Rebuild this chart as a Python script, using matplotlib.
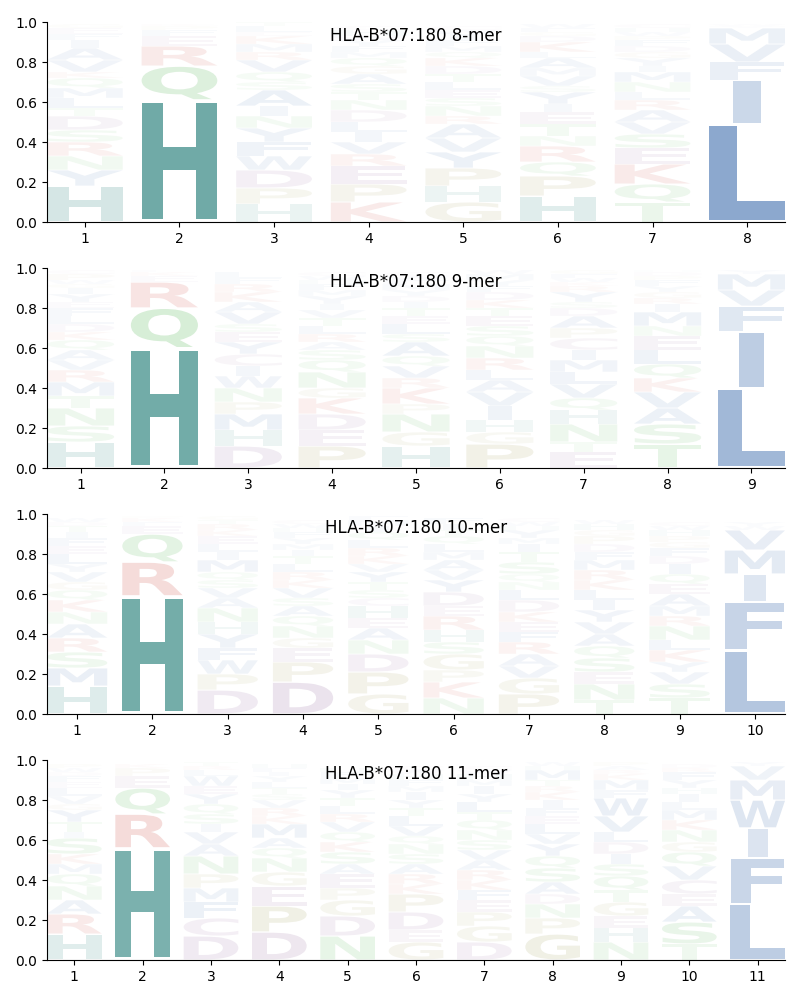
import numpy as np
import matplotlib
matplotlib.use("Agg")
import matplotlib.pyplot as plt
from matplotlib.textpath import TextPath
from matplotlib.patches import PathPatch
from matplotlib.font_manager import FontProperties
from matplotlib.transforms import Affine2D

ALLELE = "HLA-B*07:180"

# letters per position, bottom -> top, and their heights
MER8_LETTERS = ["HYNRSDTLMQKVAIFEG", "HQREFPK", "HPDWFYNIASQVRMKELT",
                "KPERVILDNTSAGQMFYWHC", "GHPYVARNSELTDKQMFIWC",
                "HPQRNTEIYSVMALKDGFW", "TQKESVARLNMIYGDFPWHC", "LIFVMYW"]
MER8_HEIGHTS = [
    [.18, .08, .07, .07, .06, .07, .04, .05, .05, .05, .03, .06, .06, .04, .03, .03, .02],
    [.61, .17, .10, .05, .03, .02, .01],
    [.09, .08, .09, .07, .07, .07, .06, .05, .08, .04, .05, .06, .04, .04, .04, .02, .03, .02],
    [.10, .09, .09, .06, .06, .05, .05, .06, .05, .04, .04, .05, .04, .04, .03, .03, .03, .02, .03, .02],
    [.10, .08, .09, .08, .07, .07, .04, .05, .04, .04, .04, .04, .04, .04, .03, .03, .03, .03, .02, .02],
    [.13, .10, .07, .08, .05, .06, .06, .04, .06, .03, .05, .04, .05, .03, .05, .03, .02, .02, .02],
    [.10, .09, .10, .08, .07, .06, .06, .05, .04, .05, .05, .03, .04, .03, .03, .03, .02, .02, .02, .02],
    [.49, .22, .09, .09, .08, .01, .01],
]

MER9_LETTERS = ["HSNTMRVAQKDLFEYIGWPC", "HQREKF", "DHMPNWICYESVAKRFL",
                "PEDKGNQSARLTVIYMFHWC", "HGNPKRVQASLETIDYMFWC",
                "PGHIVALRNQSETKDFYMW", "ETNHQVLMICPADSYRKWFG",
                "TSAVKQLENMIRGYFPDH", "LIFVMY"]
MER9_HEIGHTS = [
    [.13, .08, .09, .06, .07, .06, .05, .05, .05, .04, .04, .04, .04, .03, .04, .03, .02, .02, .03, .02],
    [.60, .20, .13, .03, .02, .01],
    [.11, .08, .08, .06, .07, .06, .05, .06, .06, .05, .04, .06, .05, .05, .04, .03, .03],
    [.11, .08, .08, .08, .05, .08, .06, .05, .04, .04, .04, .04, .04, .03, .04, .03, .03, .02, .02, .02],
    [.11, .07, .09, .05, .08, .05, .06, .05, .07, .04, .05, .04, .04, .03, .03, .03, .03, .02, .02, .02],
    [.12, .06, .06, .07, .07, .06, .05, .06, .06, .05, .05, .05, .04, .04, .04, .03, .03, .03, .02],
    [.08, .05, .09, .07, .06, .07, .06, .06, .05, .06, .05, .06, .04, .03, .05, .03, .02, .02, .02, .02],
    [.12, .10, .08, .08, .07, .07, .07, .07, .05, .07, .04, .03, .03, .03, .03, .02, .02, .01],
    [.40, .28, .13, .08, .08, .02],
]

MER10_LETTERS = ["HMSRANKQGVYLEFITDW", "HRQEFKP", "DPWFYHNAVSQMILEKRTG",
                 "DPEGNQASVKRLTIMYFHWC", "GPDNAEHCSTYVKRLQIMF",
                 "NKPGSHREDYVAMLQTIF", "PGVARFEKDLNQSTIMYHWC",
                 "TNESQAVYILKRMFDPGHW", "TSVYKLNRMAEQIDFGPHWC", "LFIMVWY"]
MER10_HEIGHTS = [
    [.14, .09, .08, .07, .07, .06, .06, .05, .04, .05, .04, .05, .04, .04, .03, .03, .02, .02],
    [.59, .17, .14, .04, .02, .02, .01],
    [.12, .08, .07, .06, .07, .06, .07, .05, .05, .04, .04, .06, .04, .04, .04, .03, .03, .02, .02],
    [.16, .10, .07, .05, .06, .05, .05, .04, .05, .04, .04, .04, .04, .03, .03, .03, .03, .02, .02, .02],
    [.10, .11, .09, .07, .06, .05, .06, .04, .04, .04, .05, .04, .04, .04, .04, .04, .03, .03, .02],
    [.08, .08, .06, .08, .06, .06, .07, .05, .07, .06, .05, .05, .04, .04, .04, .03, .03, .03],
    [.10, .08, .06, .06, .06, .05, .05, .05, .06, .05, .04, .04, .06, .05, .04, .03, .04, .02, .02, .02],
    [.07, .08, .06, .07, .06, .06, .06, .06, .05, .05, .05, .05, .05, .04, .04, .04, .03, .03, .02],
    [.08, .07, .06, .05, .06, .05, .07, .05, .05, .06, .05, .05, .05, .04, .04, .03, .03, .03, .02, .02],
    [.32, .24, .14, .12, .10, .02, .02],
]

MER11_LETTERS = ["HRANQMKSITYGVLEFDWP", "HRQEPK", "DCFMPNAVISQYEWLRT",
                 "DPEGNQAMKRVSTLYIFH", "NDGPEASKQVRLTYIMFH",
                 "GEDPKRASNQVLTYIMFHWC", "DGPEFKRAVSNQTLYIMHWC",
                 "GPNDASQYVLEFIKRTMHW", "NHEGTQSIDLVWFMKRAP",
                 "TSAECVQGNKMLIHYFRD", "LFIWMVY"]
MER11_HEIGHTS = [
    [.13, .10, .07, .07, .06, .05, .05, .08, .03, .05, .06, .03, .04, .04, .03, .03, .02, .02, .02],
    [.56, .17, .13, .06, .04, .02],
    [.12, .09, .08, .07, .07, .09, .06, .06, .04, .05, .05, .05, .04, .05, .03, .02, .02],
    [.14, .13, .10, .07, .07, .05, .05, .07, .04, .04, .04, .03, .03, .03, .03, .02, .02, .02],
    [.12, .10, .08, .06, .07, .05, .06, .05, .05, .05, .04, .04, .04, .04, .03, .03, .03, .02],
    [.09, .06, .09, .09, .05, .05, .05, .05, .05, .04, .05, .05, .04, .04, .04, .03, .03, .03, .02, .02],
    [.09, .08, .07, .06, .05, .05, .05, .05, .05, .05, .05, .05, .04, .05, .04, .04, .03, .03, .02, .02],
    [.13, .08, .07, .05, .06, .07, .06, .06, .05, .05, .04, .04, .04, .04, .03, .03, .05, .02, .02],
    [.09, .07, .06, .07, .06, .07, .06, .05, .06, .05, .08, .09, .04, .05, .03, .02, .02, .02],
    [.08, .11, .08, .06, .07, .07, .07, .05, .06, .05, .05, .04, .04, .03, .04, .04, .02, .02],
    [.28, .23, .15, .14, .10, .07, .02],
]

# base colours per residue group
TEAL = np.array([67, 144, 139]) / 255
BLUE = np.array([67, 113, 175]) / 255
GREEN = np.array([95, 185, 95]) / 255
RED = np.array([210, 90, 80]) / 255
PURPLE = np.array([155, 115, 165]) / 255
KHAKI = np.array([165, 160, 95]) / 255
GROUP = {'H': TEAL, 'K': RED, 'R': RED, 'D': PURPLE, 'E': PURPLE, 'C': PURPLE,
         'N': GREEN, 'Q': GREEN, 'S': GREEN, 'T': GREEN, 'G': KHAKI, 'P': KHAKI}

FP = FontProperties(family='DejaVu Sans', weight='bold')
E_WIDTH = TextPath((0, 0), 'E', size=1, prop=FP).get_extents().width
WIDTH = 0.8
VPAD = 0.05


def letter_color(ch, p):
    a = min(1.0, 1.25 * p)
    base = GROUP.get(ch, BLUE)
    return tuple(1 - a * (1 - base))


def draw_glyph(ax, ch, x, y0, h, color):
    path = TextPath((0, 0), ch, size=1, prop=FP)
    bb = path.get_extents()
    sx = WIDTH / max(bb.width, E_WIDTH)
    sy = h * (1 - VPAD) / bb.height
    w = bb.width * sx
    tr = Affine2D().translate(-bb.x0, -bb.y0).scale(sx, sy).translate(x - w / 2, y0 + h * VPAD / 2)
    ax.add_patch(PathPatch(tr.transform_path(path), fc=color, ec='none', lw=0))


def draw_logo(ax, letters, heights, title):
    n = len(letters)
    for i, (lets, hs) in enumerate(zip(letters, heights)):
        y = 0.0
        for ch, h in zip(lets, hs):
            draw_glyph(ax, ch, i + 1, y, h, letter_color(ch, h))
            y += h
    ax.set_xlim(0.6, n + 0.4)
    ax.set_ylim(0, 1)
    ax.set_xticks(range(1, n + 1))
    ax.set_yticks(np.arange(0, 1.01, 0.2))
    ax.spines['top'].set_visible(False)
    ax.spines['right'].set_visible(False)
    ax.text(0.5, 0.93, title, transform=ax.transAxes, ha='center', va='center', fontsize=12)


fig = plt.figure(figsize=(8, 10), dpi=100)
panels = [(MER8_LETTERS, MER8_HEIGHTS, 8), (MER9_LETTERS, MER9_HEIGHTS, 9),
          (MER10_LETTERS, MER10_HEIGHTS, 10), (MER11_LETTERS, MER11_HEIGHTS, 11)]
for k, (lets, hs, L) in enumerate(panels):
    top = 22 + k * 246
    ax = fig.add_axes([47 / 800, 1 - (top + 200) / 1000, 738 / 800, 200 / 1000])
    draw_logo(ax, lets, hs, f"{ALLELE} {L}-mer")

fig.savefig("out.png", dpi=100)
